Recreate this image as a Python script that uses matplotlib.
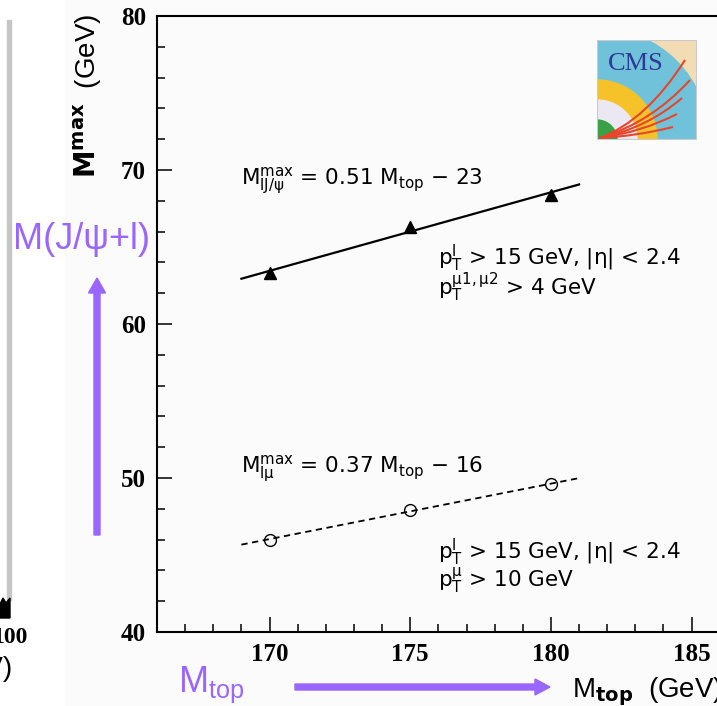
import numpy as np
import matplotlib
matplotlib.use("Agg")
import matplotlib.pyplot as plt
from matplotlib.patches import FancyArrow, Rectangle, Wedge, Polygon
from matplotlib.path import Path
from matplotlib.patches import PathPatch
from matplotlib.transforms import Affine2D
from matplotlib.ticker import MultipleLocator

plt.rcParams['font.family'] = ['Liberation Sans', 'DejaVu Sans']
plt.rcParams['mathtext.fontset'] = 'custom'
plt.rcParams['mathtext.rm'] = 'DejaVu Sans'
plt.rcParams['mathtext.it'] = 'DejaVu Sans:italic'
plt.rcParams['mathtext.bf'] = 'DejaVu Sans:bold'

# top mass points and the fitted endpoint masses
mtop = [170, 175, 180]
m_ljpsi = [63.3, 66.3, 68.4]   # M^max(l J/psi)
m_lmu = [46.0, 47.9, 49.6]     # M^max(l mu)
fit_range = [169, 181]

xticks = [170, 175, 180, 185]
yticks = [40, 50, 60, 70, 80]

purple = '#9966ff'
W, H = 717, 706

fig = plt.figure(figsize=(W / 100, H / 100), dpi=100)
fig.patch.set_facecolor('white')
px = Affine2D().scale(1 / fig.dpi) + fig.dpi_scale_trans   # figure pixels, origin bottom-left

# faint page background of the scanned plot
fig.add_artist(Rectangle((65, 0), W - 65, H, transform=px, color='#fbfbfb', zorder=0))

ax = fig.add_axes([157 / W, (H - 632) / H, 619 / W, 616 / H])
ax.set_facecolor('none')
ax.set_xlim(166, 188)
ax.set_ylim(40, 80)
ax.spines['right'].set_visible(False)
for s in ['left', 'bottom', 'top']:
    ax.spines[s].set_linewidth(1.5)
ax.xaxis.set_minor_locator(MultipleLocator(1))
ax.yaxis.set_minor_locator(MultipleLocator(2))
ax.set_xticks(xticks)
ax.set_yticks(yticks)
ax.tick_params(which='major', direction='in', length=11, width=1.1, pad=8)
ax.tick_params(which='minor', direction='in', length=5.8, width=1.1)
ax.tick_params(top=False, right=False, which='both')
for lab in ax.get_xticklabels() + ax.get_yticklabels():
    lab.set_fontfamily('Liberation Serif')
    lab.set_fontweight('bold')
    lab.set_fontsize(18)

# linear fits through the points
xf = np.array(fit_range, dtype=float)
p1 = np.polyfit(mtop, m_ljpsi, 1)
p2 = np.polyfit(mtop, m_lmu, 1)
ax.plot(xf, np.polyval(p1, xf), color='black', lw=1.6)
ax.plot(xf, np.polyval(p2, xf), color='black', lw=1.3, ls=(0, (3.5, 2.5)))
ax.plot(mtop, m_ljpsi, '^', color='black', ms=8.5)
ax.plot(mtop, m_lmu, 'o', mfc='none', mec='black', ms=8.5, mew=1.0)

fs = 15.5
tkw = dict(fontsize=fs, va='baseline', ha='left', family=['DejaVu Sans'])
ax.text(169.0, 69.0, r'$\mathregular{M^{max}_{lJ/\psi}}$ = 0.51 M$_{\mathregular{top}}$ $-$ 23', **tkw)
ax.text(176.0, 63.8, r'$\mathregular{p^{l}_{T}}$ > 15 GeV, |$\mathregular{\eta}$| < 2.4', **tkw)
ax.text(176.0, 61.9, r'$\mathregular{p^{\mu1,\mu2}_{T}}$ > 4 GeV', **tkw)
ax.text(169.0, 50.3, r'$\mathregular{M^{max}_{l\mu}}$ = 0.37 M$_{\mathregular{top}}$ $-$ 16', **tkw)
ax.text(176.0, 44.7, r'$\mathregular{p^{l}_{T}}$ > 15 GeV, |$\mathregular{\eta}$| < 2.4', **tkw)
ax.text(176.0, 42.9, r'$\mathregular{p^{\mu}_{T}}$ > 10 GeV', **tkw)

# axis titles
fig.text(88 / W, 1 - 96 / H, r'$\mathbf{M}^{\mathbf{max}}$  (GeV)', rotation=90,
         ha='center', va='center', fontsize=20)
fig.text(572 / W, 1 - 697 / H, r'M$_{\mathbf{top}}$  (GeV)', ha='left', va='baseline',
         fontsize=20)

# CMS logo
lg = fig.add_axes([597 / W, 1 - 140 / H, 100 / W, 100 / H])
lg.set_xlim(0, 1)
lg.set_ylim(0, 1)
lg.axis('off')
lg.add_patch(Rectangle((0, 0), 1, 1, color='#f3dcb4'))
lg.add_patch(Wedge((0, 0), 1.12, 0, 90, color='#6fc2da'))
lg.add_patch(Wedge((0, 0), 0.6, 0, 90, color='#f6c22a'))
lg.add_patch(Wedge((0, 0), 0.4, 0, 90, color='#ece8f2'))
lg.add_patch(Wedge((0, 0), 0.2, 0, 90, color='#3aa048'))
lg.text(0.39, 0.76, 'CMS', family='Liberation Serif', color='#2e3896', fontsize=19,
        ha='center', va='center')
for ex, ey, cx, cy in [(0.88, 0.8, 0.5, 0.2), (0.93, 0.6, 0.55, 0.18), (0.85, 0.42, 0.5, 0.12),
                       (0.8, 0.26, 0.45, 0.08), (0.76, 0.13, 0.4, 0.04)]:
    path = Path([(0.03, 0.02), (cx, cy), (ex, ey)], [Path.MOVETO, Path.CURVE3, Path.CURVE3])
    lg.add_patch(PathPatch(path, fc='none', ec='#e8452a', lw=1.5))
lg.add_patch(Rectangle((0, 0), 1, 1, fc='none', ec='#c9c9cf', lw=1.5))

# purple annotation arrows and labels
fig.add_artist(FancyArrow(97, H - 535, 0, 257, width=6, head_width=17, head_length=15,
                          length_includes_head=True, color=purple, transform=px))
fig.add_artist(FancyArrow(295, H - 687, 255, 0, width=6, head_width=16, head_length=15,
                          length_includes_head=True, color=purple, transform=px))
fig.text(13 / W, 1 - 249 / H, 'M(J/ψ+l)', color=purple, fontsize=26,
         ha='left', va='baseline')
fig.text(178 / W, 1 - 692 / H, r'M$_{\mathregular{top}}$', color=purple, fontsize=26,
         ha='left', va='baseline', math_fontfamily='dejavusans')

# edge of the neighbouring panel
fig.add_artist(Rectangle((7, H - 600), 4, 580, transform=px, color='#c6c6c6'))
fig.add_artist(Polygon([(0, H - 618), (10, H - 618), (10, H - 598), (6, H - 603), (3, H - 598), (0, H - 604)],
                       transform=px, color='black'))
fig.text(28 / W, 1 - 643 / H, '100', family='Liberation Serif', weight='bold', fontsize=17,
         ha='right', va='baseline')
fig.text(12 / W, 1 - 676 / H, '(GeV)', fontsize=20, ha='right', va='baseline')

fig.savefig('out.png', dpi=100)
